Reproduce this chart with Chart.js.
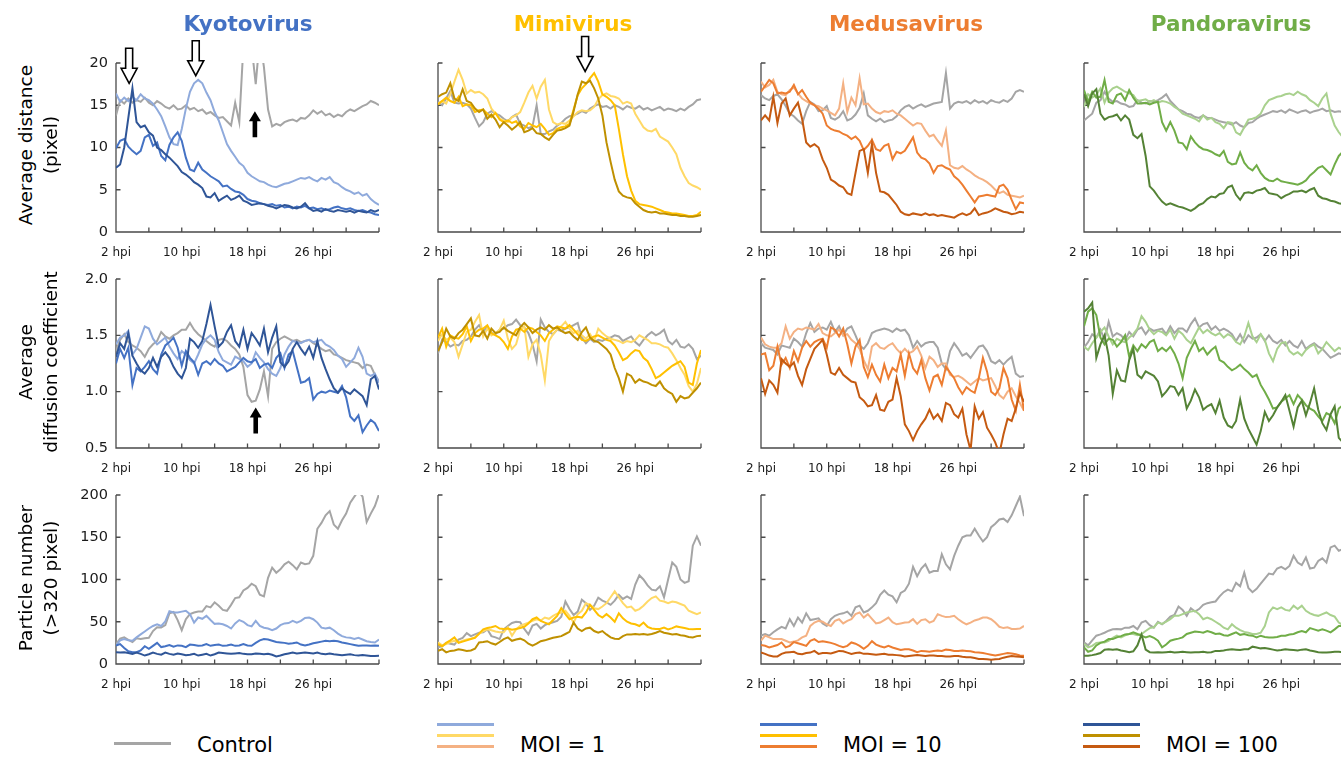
<!DOCTYPE html>
<html>
<head>
<meta charset="utf-8">
<script src="https://cdn.jsdelivr.net/npm/chart.js@4.4.1/dist/chart.umd.min.js"></script>
<style>
  html, body { margin: 0; padding: 0; width: 1341px; height: 762px; overflow: hidden; background: #ffffff; }
  body { position: relative; font-family: "DejaVu Sans", Verdana, sans-serif; color: #000; }
  canvas { position: absolute; }
  .col-title { position: absolute; top: 11px; font-size: 21.5px; font-weight: bold; white-space: nowrap; transform: translateX(-50%); }
  .axis-title { position: absolute; font-size: 18.5px; white-space: nowrap; transform: translate(-50%, -50%) rotate(-90deg); }
  .legend-line { position: absolute; height: 3px; }
  .legend-text { position: absolute; font-size: 21px; line-height: 24px; white-space: nowrap; }
</style>
</head>
<body>
<script>
// ---- sampling grid (hours post infection) and axis ticks ----
const HOURS = Array.from({ length: 65 }, (_, i) => 2 + i * 0.5);
const TICK_HOURS = [2, 6, 10, 14, 18, 22, 26, 30, 34];
const TICK_LABELS = { 2: '2 hpi', 10: '10 hpi', 18: '18 hpi', 26: '26 hpi' };

const VIRUSES = ['Kyotovirus', 'Mimivirus', 'Medusavirus', 'Pandoravirus'];
const VIRUS_COLORS = ['#4472C4', '#FFC000', '#ED7D31', '#70AD47'];
const CONTROL_COLOR = '#A5A5A5';
const MOI_COLORS = [
  ['#8FAADC', '#4472C4', '#2F5597'],
  ['#FFD966', '#FFC000', '#BF9000'],
  ['#F4B183', '#ED7D31', '#C55A11'],
  ['#A9D18E', '#70AD47', '#548235']
];
const MOI_LABELS = ['MOI = 1', 'MOI = 10', 'MOI = 100'];
const METRIC_TITLES = [
  ['Average distance', '(pixel)'],
  ['Average', 'diffusion coefficient'],
  ['Particle number', '(>320 pixel)']
];
const Y_MIN = [0, 0.5, 0];
const Y_MAX = [20, 2.0, 200];
const Y_STEP = [5, 0.5, 50];

// ---- Average distance (pixel) ----
const KYOTO_DIST_CTRL = [13.8,15.6,15.2,15.8,15.3,15.6,15.4,15.9, 15.3,15.0,15.5,15.2,14.8,14.6,15.0,14.5, 14.6,15.0,14.5,14.7,14.3,14.5,14.0,14.2, 13.8,13.5,13.6,13.1,12.6,15.3,13.0,22, 23,22,17.5,23,19.5,14.5,12.5,12.8, 12.6,13.0,13.2,13.3,13.1,13.5,13.4,13.8, 14.4,14.0,14.3,13.8,14.0,13.6,13.9,13.7, 14.2,14.5,14.3,14.6,14.9,15.1,15.5,15.3, 15.0];
const KYOTO_DIST_MOI1 = [16.4,15.4,15.9,15.5,16.0,15.6,16.3,15.8, 15.6,15.2,14.5,13.7,12.5,11.2,10.4,10.3, 12.2,14.6,16.6,17.6,18.0,17.6,16.5,15.6, 14.2,13.2,11.8,10.4,9.6,8.9,8.2,7.8, 7.0,6.6,6.3,6.0,5.9,5.6,5.4,5.3, 5.5,5.7,5.8,6.0,6.2,6.4,6.3,6.5, 6.2,6.0,6.4,6.2,6.5,5.9,5.7,5.3, 5.0,4.8,4.5,4.7,4.3,4.5,3.9,3.5, 3.2];
const KYOTO_DIST_MOI10 = [9.9,10.8,11.0,10.1,9.6,9.2,9.6,11.2, 11.5,10.2,10.6,9.0,8.5,10.3,11.2,11.8, 10.8,8.8,7.4,7.2,8.2,7.4,7.0,6.6, 6.3,6.0,5.4,5.5,5.1,4.8,4.7,4.4, 3.9,3.7,3.6,3.4,3.3,3.2,3.3,3.1, 3.2,2.9,3.0,2.8,3.0,2.9,3.1,2.8, 2.9,2.7,2.8,2.6,2.7,2.9,3.0,2.8, 2.7,2.8,2.6,2.5,2.6,2.4,2.3,2.1, 2.0];
const KYOTO_DIST_MOI100 = [7.6,8.0,10.0,13.5,17.0,13.0,12.4,12.6, 11.8,11.4,10.0,9.7,9.2,8.8,8.3,7.8, 7.1,6.8,6.4,5.9,5.6,5.2,4.2,4.1, 4.6,3.7,4.0,4.3,3.8,4.0,4.3,3.7, 3.5,3.2,3.3,3.4,3.3,3.1,3.0,2.8, 3.0,3.2,3.1,2.9,2.8,3.0,3.4,2.8, 2.5,2.6,2.4,2.7,2.5,2.4,2.6,2.5, 2.4,2.5,2.3,2.5,2.4,2.3,2.6,2.4, 2.6];

const MIMI_DIST_CTRL = [15.4,15.0,15.8,16.7,15.3,15.2,15.3,15.1, 14.6,13.5,12.5,13.0,14.0,14.3,14.0,13.8, 13.4,13.1,13.6,13.9,12.8,12.6,12.3,12.5, 15.0,11.6,11.6,11.9,12.1,12.6,12.9,13.4, 13.7,13.8,14.0,14.3,14.1,14.6,14.9,15.1, 14.8,14.9,14.6,15.0,14.8,14.5,14.9,14.7, 14.6,14.9,14.5,14.7,14.4,14.6,14.8,14.4, 14.6,14.5,14.3,14.6,14.4,14.8,15.1,15.6, 15.7];
const MIMI_DIST_MOI1 = [15.2,15.5,15.2,16.3,17.8,19.2,18.0,16.4, 16.8,16.5,16.6,16.3,15.8,14.6,14.0,13.4, 13.2,13.0,13.6,13.8,14.2,15.3,16.5,17.3, 15.8,17.2,18.0,14.5,13.0,12.7,12.9,12.8, 13.2,13.7,14.2,14.4,14.3,14.4,14.8,15.7, 16.2,16.4,16.1,16.0,15.8,15.2,15.4,15.2, 14.0,13.2,12.4,12.0,11.9,12.2,11.3,11.0, 10.7,10.0,9.2,7.6,6.6,5.8,5.5,5.3, 5.0];
const MIMI_DIST_MOI10 = [15.1,15.5,15.9,15.5,15.3,16.0,14.9,15.1, 15.0,14.2,14.4,14.5,14.0,13.6,14.1,13.3, 13.0,13.2,12.9,13.1,12.5,12.2,12.9,12.6, 12.4,12.8,12.2,11.5,11.7,12.2,12.4,12.5, 12.8,14.5,16.2,17.0,17.5,18.2,18.8,17.8, 16.3,16.0,15.6,15.0,12.2,9.2,6.6,4.9, 3.7,3.3,3.2,3.1,3.0,2.8,2.6,2.4, 2.3,2.2,2.2,2.1,2.0,1.9,1.9,2.0, 2.4];
const MIMI_DIST_MOI100 = [16.0,16.3,16.5,17.6,15.8,15.5,16.9,15.5, 15.3,14.6,14.2,14.5,13.4,13.9,13.3,12.4, 13.0,12.6,12.1,12.5,13.0,11.8,12.0,12.3, 11.7,11.6,11.2,10.9,11.5,12.0,12.1,12.3, 12.6,14.3,16.3,17.8,17.6,17.9,17.0,15.8, 13.8,10.6,8.3,6.2,4.8,4.3,4.1,4.0, 3.4,3.0,2.6,2.4,2.3,2.4,2.2,2.2, 2.1,2.0,2.0,1.9,1.9,1.8,1.8,1.9, 2.0];

const MEDUSA_DIST_CTRL = [16.2,15.8,15.6,16.1,16.3,15.7,14.9,14.0, 13.7,13.2,12.8,14.3,15.4,15.1,14.3,14.4, 14.9,13.5,13.3,13.6,14.3,13.2,13.4,13.9, 14.7,16.4,13.8,13.4,13.1,13.4,13.0,13.2, 13.3,13.7,14.4,14.8,15.0,14.6,14.9,15.1, 14.8,15.0,15.2,15.3,15.4,18.8,14.6,15.2, 15.4,15.3,15.5,15.2,15.6,15.3,15.5,15.2, 15.6,15.4,15.3,15.6,15.4,15.8,16.6,16.8, 16.6];
const MEDUSA_DIST_MOI1 = [17.8,17.1,17.4,18.0,16.6,16.3,16.2,16.8, 17.1,16.4,15.8,15.5,15.2,15.0,14.9,14.6, 14.4,14.1,13.8,14.6,17.6,14.2,15.9,15.0, 18.2,15.1,15.2,14.6,14.2,14.0,14.3,14.2, 14.4,14.0,13.8,13.4,13.0,12.6,12.9,12.8, 12.0,11.3,11.5,10.8,10.2,12.0,7.9,7.6, 7.5,7.8,7.4,7.1,6.7,6.4,6.2,5.9, 5.5,5.0,4.6,4.8,4.4,4.3,4.2,4.1, 4.3];
const MEDUSA_DIST_MOI10 = [16.6,17.3,18.0,17.6,16.4,16.5,16.4,16.6, 17.4,16.3,16.8,16.0,15.3,15.0,14.6,14.0, 12.6,12.2,12.0,11.9,11.6,11.4,11.0,11.3, 10.8,9.7,10.2,10.9,9.8,9.6,10.2,10.4, 8.6,9.5,9.3,9.6,10.4,11.2,9.4,8.8, 8.6,8.1,7.0,7.8,7.9,7.6,7.4,6.6, 6.2,5.6,4.9,4.2,3.5,4.2,4.3,4.4, 4.3,4.2,5.4,5.6,5.0,3.8,2.7,3.5, 3.4];
const MEDUSA_DIST_MOI100 = [13.2,13.8,13.2,16.0,12.9,15.2,15.8,13.8, 14.6,15.3,13.4,10.6,10.1,10.4,10.0,8.6, 7.6,6.2,5.9,5.5,5.3,4.6,4.4,7.0, 9.6,9.8,7.0,10.4,7.0,4.8,4.7,4.4, 3.8,3.2,2.4,2.1,2.0,2.2,2.1,2.0, 2.2,2.0,2.1,1.9,2.0,1.9,1.8,1.7, 2.0,2.2,2.0,2.2,2.8,2.0,2.2,2.3, 2.5,2.8,2.6,2.4,2.3,2.1,2.2,2.4, 2.3];

const PANDORA_DIST_CTRL = [13.2,13.6,14.0,15.3,15.6,16.6,15.8,15.4, 15.5,15.2,15.1,14.8,14.9,15.6,15.3,15.2, 15.5,15.4,15.6,15.9,16.3,15.5,15.0,14.5, 14.3,14.0,13.9,13.6,13.5,13.8,13.5,13.5, 13.3,13.1,13.0,12.9,12.7,13.0,12.6,12.4, 12.9,13.0,13.4,13.7,13.9,14.1,14.3,14.2, 14.4,14.1,14.5,14.3,14.1,14.3,14.4,14.1, 14.3,14.4,14.6,14.3,14.4,14.2,14.3,14.2, 14.0];
const PANDORA_DIST_MOI1 = [14.8,16.3,15.9,16.2,17.0,15.3,16.5,17.0, 17.2,16.9,16.6,16.4,16.2,15.5,15.6,15.7, 15.4,15.6,15.3,15.5,15.4,15.2,14.8,14.5, 14.0,13.8,13.6,13.4,13.1,13.8,13.3,13.5, 13.0,12.8,12.3,13.0,12.9,11.8,11.5,12.4, 13.3,13.4,13.6,14.0,15.0,15.6,15.8,16.0, 16.1,16.3,16.4,16.2,16.6,16.3,16.1,15.6, 15.3,14.9,15.8,16.4,14.0,12.6,11.8,11.2, 10.8];
const PANDORA_DIST_MOI10 = [16.8,15.4,16.6,15.9,16.0,18.0,15.4,15.2, 16.2,16.4,15.6,16.8,15.9,15.2,15.2,15.3, 15.1,15.3,15.4,13.0,12.0,13.0,12.0,10.6, 10.5,9.8,11.3,10.6,10.1,9.8,9.7,9.5, 9.2,9.0,9.6,8.3,8.0,8.1,9.4,8.2, 7.6,7.3,7.9,7.0,6.4,6.1,6.0,6.3, 6.0,5.9,5.8,5.7,5.6,5.8,6.1,6.7, 7.1,7.6,7.8,7.3,6.8,8.0,9.0,9.5, 10.0];
const PANDORA_DIST_MOI100 = [16.3,14.9,16.4,16.9,14.0,13.3,13.6,13.7, 13.9,13.2,13.8,13.3,11.5,11.1,11.6,9.0, 5.4,4.9,4.2,3.6,3.2,3.4,3.2,3.0, 2.9,2.7,2.5,2.8,3.2,3.4,3.9,4.2, 4.1,4.5,4.6,5.3,5.5,4.4,3.8,4.6, 4.7,4.6,4.9,5.0,5.2,4.6,4.5,4.4, 4.0,4.3,4.5,4.8,4.8,4.9,4.7,5.0, 5.2,4.3,4.0,3.9,3.7,3.6,3.4,3.3, 3.2];

// ---- Average diffusion coefficient ----
const KYOTO_DIFF_CTRL = [1.36,1.46,1.51,1.44,1.41,1.39,1.36,1.31, 1.38,1.42,1.45,1.53,1.49,1.47,1.50,1.52, 1.55,1.55,1.61,1.55,1.51,1.48,1.45,1.42, 1.40,1.46,1.47,1.45,1.41,1.38,1.33,1.22, 0.97,0.91,0.92,1.02,1.18,0.96,1.38,1.44, 1.47,1.49,1.47,1.45,1.46,1.44,1.45,1.46, 1.43,1.41,1.38,1.36,1.37,1.33,1.32,1.30, 1.28,1.27,1.26,1.25,1.21,1.24,1.23,1.15, 1.09];
const KYOTO_DIFF_MOI1 = [1.42,1.48,1.50,1.54,1.33,1.38,1.48,1.58, 1.56,1.47,1.42,1.45,1.48,1.40,1.34,1.29, 1.36,1.33,1.28,1.25,1.33,1.42,1.47,1.50, 1.46,1.35,1.28,1.26,1.24,1.31,1.29,1.27, 1.22,1.25,1.35,1.30,1.26,1.20,1.16,1.14, 1.21,1.33,1.40,1.45,1.44,1.43,1.45,1.46, 1.44,1.45,1.46,1.42,1.40,1.37,1.32,1.29, 1.22,1.26,1.30,1.39,1.31,1.16,1.14,1.16, 1.08];
const KYOTO_DIFF_MOI10 = [1.25,1.38,1.30,1.39,1.06,1.21,1.18,1.22, 1.27,1.20,1.16,1.33,1.41,1.44,1.48,1.39, 1.23,1.36,1.30,1.26,1.15,1.25,1.27,1.24, 1.29,1.25,1.23,1.18,1.20,1.22,1.26,1.30, 1.27,1.26,1.29,1.21,1.24,1.25,1.21,1.30, 1.34,1.21,1.33,1.36,1.22,1.08,1.09,1.12, 0.93,0.98,1.00,0.99,1.01,1.00,0.99,1.05, 0.95,0.78,0.74,0.79,0.64,0.70,0.75,0.72, 0.65];
const KYOTO_DIFF_MOI100 = [1.31,1.43,1.38,1.52,1.32,1.25,1.19,1.16, 1.21,1.30,1.22,1.31,1.35,1.30,1.22,1.16, 1.12,1.21,1.47,1.44,1.39,1.45,1.60,1.77, 1.58,1.40,1.44,1.53,1.59,1.45,1.40,1.55, 1.38,1.52,1.47,1.41,1.56,1.35,1.48,1.58, 1.26,1.22,1.27,1.38,1.44,1.38,1.33,1.40, 1.30,1.45,1.30,1.20,1.11,1.03,0.99,1.03, 1.00,0.98,1.02,0.99,0.96,0.88,1.11,1.14, 1.02];

const MIMI_DIFF_CTRL = [1.34,1.46,1.44,1.40,1.42,1.41,1.45,1.46, 1.49,1.55,1.59,1.53,1.58,1.52,1.51,1.55, 1.56,1.59,1.60,1.64,1.59,1.57,1.52,1.42, 1.27,1.64,1.57,1.53,1.51,1.55,1.54,1.56, 1.57,1.59,1.61,1.48,1.43,1.47,1.44,1.46, 1.45,1.47,1.48,1.50,1.49,1.45,1.47,1.49, 1.44,1.41,1.46,1.50,1.53,1.50,1.52,1.55, 1.45,1.42,1.46,1.40,1.39,1.42,1.38,1.29, 1.32];
const MIMI_DIFF_MOI1 = [1.45,1.51,1.46,1.48,1.44,1.31,1.42,1.53, 1.55,1.62,1.68,1.49,1.56,1.50,1.52,1.55, 1.63,1.47,1.38,1.42,1.55,1.58,1.31,1.42, 1.46,1.33,1.10,1.45,1.51,1.55,1.58,1.62, 1.56,1.52,1.54,1.50,1.47,1.51,1.45,1.56, 1.52,1.49,1.47,1.46,1.45,1.43,1.45,1.44, 1.46,1.50,1.48,1.46,1.43,1.43,1.42,1.40, 1.39,1.34,1.28,1.21,1.15,1.05,1.00,1.07, 1.21];
const MIMI_DIFF_MOI10 = [1.48,1.56,1.40,1.50,1.48,1.47,1.51,1.58, 1.45,1.52,1.55,1.56,1.59,1.52,1.50,1.48, 1.44,1.38,1.49,1.55,1.56,1.53,1.57,1.56, 1.53,1.50,1.45,1.52,1.55,1.58,1.57,1.56, 1.59,1.55,1.51,1.46,1.45,1.47,1.49,1.50, 1.48,1.46,1.45,1.41,1.35,1.28,1.30,1.34, 1.37,1.36,1.30,1.27,1.20,1.12,1.14,1.17, 1.20,1.23,1.25,1.27,1.22,1.08,1.06,1.25, 1.37];
const MIMI_DIFF_MOI100 = [1.36,1.44,1.56,1.49,1.47,1.52,1.55,1.60, 1.65,1.50,1.49,1.54,1.47,1.56,1.52,1.53, 1.57,1.54,1.52,1.50,1.57,1.61,1.57,1.52, 1.55,1.57,1.55,1.59,1.56,1.57,1.54,1.52, 1.53,1.49,1.46,1.53,1.57,1.48,1.45,1.44, 1.41,1.38,1.33,1.21,1.12,1.00,1.16,1.14, 1.08,1.11,1.09,1.08,1.06,1.05,1.09,1.03, 1.00,0.98,0.91,0.96,0.94,0.95,0.99,1.03, 1.08];

const MEDUSA_DIFF_CTRL = [1.43,1.39,1.38,1.37,1.33,1.41,1.40,1.39, 1.47,1.44,1.40,1.52,1.61,1.53,1.56,1.57, 1.55,1.62,1.53,1.58,1.50,1.56,1.58,1.50, 1.41,1.38,1.43,1.52,1.54,1.55,1.56,1.55, 1.53,1.56,1.54,1.55,1.50,1.39,1.45,1.40, 1.43,1.44,1.44,1.39,1.25,1.20,1.36,1.43, 1.38,1.32,1.34,1.30,1.35,1.40,1.41,1.36, 1.27,1.25,1.28,1.24,1.28,1.31,1.16,1.13, 1.14];
const MEDUSA_DIFF_MOI1 = [1.48,1.42,1.40,1.39,1.39,1.43,1.58,1.47, 1.53,1.56,1.55,1.57,1.56,1.55,1.60,1.52, 1.50,1.49,1.52,1.55,1.50,1.51,1.46,1.43, 1.38,1.28,1.20,1.40,1.43,1.39,1.38,1.41, 1.43,1.38,1.34,1.38,1.34,1.36,1.40,1.32, 1.21,1.31,1.28,1.22,1.25,1.25,1.15,1.13, 1.14,1.12,1.09,1.06,1.09,1.12,1.10,1.11, 1.12,1.05,0.97,0.94,1.00,1.03,0.96,0.90, 0.83];
const MEDUSA_DIFF_MOI10 = [1.33,1.34,1.19,1.23,1.40,1.24,1.30,1.21, 1.36,1.27,1.39,1.45,1.40,1.44,1.46,1.47, 1.39,1.57,1.55,1.49,1.56,1.42,1.25,1.40, 1.46,1.22,1.13,1.24,1.15,1.09,1.24,1.12, 1.21,1.18,1.33,1.14,1.34,1.21,1.16,1.28, 1.12,1.01,1.13,1.15,1.06,1.22,1.17,1.12, 1.04,0.98,1.04,1.01,0.99,1.12,1.30,1.18, 1.00,0.97,1.03,1.21,1.12,0.93,0.83,1.06, 0.83];
const MEDUSA_DIFF_MOI100 = [1.12,0.98,1.10,1.06,0.99,1.29,1.25,1.22, 1.26,1.14,1.06,1.20,1.29,1.38,1.42,1.46, 1.33,1.17,1.15,1.21,1.15,1.12,1.09,1.08, 0.95,0.92,0.87,0.88,0.97,0.84,0.83,0.91, 0.93,1.12,0.96,0.71,0.65,0.57,0.65,0.71, 0.76,0.84,0.76,0.80,0.74,0.90,0.88,0.80, 0.77,0.85,0.62,0.48,0.87,0.76,0.82,0.68, 0.62,0.55,0.45,0.62,0.76,0.74,0.85,0.99, 0.91];

const PANDORA_DIFF_CTRL = [1.39,1.44,1.51,1.48,1.55,1.46,1.62,1.49, 1.52,1.50,1.46,1.53,1.49,1.55,1.57,1.51, 1.56,1.54,1.55,1.56,1.51,1.58,1.52,1.56, 1.56,1.53,1.60,1.65,1.57,1.60,1.61,1.55, 1.58,1.54,1.56,1.54,1.51,1.45,1.51,1.44, 1.50,1.47,1.48,1.51,1.45,1.50,1.45,1.43, 1.46,1.41,1.45,1.41,1.39,1.45,1.38,1.41, 1.43,1.40,1.38,1.34,1.30,1.32,1.34,1.33, 1.35];
const PANDORA_DIFF_MOI1 = [1.40,1.37,1.43,1.48,1.53,1.57,1.49,1.42, 1.47,1.45,1.44,1.48,1.51,1.56,1.67,1.62, 1.55,1.51,1.54,1.53,1.50,1.55,1.47,1.54, 1.51,1.46,1.43,1.50,1.57,1.52,1.55,1.52, 1.50,1.52,1.48,1.51,1.49,1.44,1.42,1.49, 1.61,1.49,1.44,1.51,1.46,1.34,1.27,1.38, 1.43,1.44,1.36,1.33,1.35,1.32,1.37,1.40, 1.42,1.34,1.38,1.44,1.40,1.36,1.39,1.37, 1.36];
const PANDORA_DIFF_MOI10 = [1.58,1.71,1.74,1.68,1.48,1.42,1.47,1.46, 1.40,1.44,1.50,1.31,1.41,1.36,1.42,1.39, 1.44,1.46,1.36,1.39,1.36,1.40,1.34,1.25, 1.12,1.30,1.38,1.45,1.36,1.39,1.33,1.37, 1.40,1.28,1.26,1.22,1.19,1.21,1.24,1.20, 1.17,1.13,1.15,1.06,1.00,0.93,0.85,0.86, 0.91,0.94,0.97,0.89,0.97,0.93,0.88,0.85, 0.83,0.78,0.74,0.81,0.79,0.72,0.85,0.88, 0.86];
const PANDORA_DIFF_MOI100 = [1.71,1.74,1.79,1.30,1.42,1.50,1.32,0.98, 1.19,1.10,1.09,1.28,1.38,1.15,1.12,1.18, 1.16,1.14,1.09,0.96,1.00,1.05,1.04,0.97, 1.03,0.85,0.92,1.02,0.95,0.84,0.87,0.89, 0.81,0.92,0.77,0.70,0.68,0.74,0.93,0.76, 0.67,0.60,0.53,0.65,0.82,0.74,0.79,0.86, 0.91,0.97,0.83,0.69,0.86,0.92,0.79,0.90, 1.03,0.84,0.72,0.66,0.80,0.87,0.59,0.55, 0.60];

// ---- Particle number (>320 pixel) ----
const KYOTO_COUNT_CTRL = [23.6,30.0,31.5,28.5,26.0,30.5,29.5,30.5, 31.0,39.0,43.5,43.3,46.0,60.0,61.5,52.0, 40.0,53.0,59.0,61.0,62.0,62.0,68.5,67.0, 73.0,69.0,64.0,63.0,70.0,78.0,79.0,87.0, 90.0,95.0,92.0,82.0,80.0,102.0,114.0,108.0, 112.0,118.0,121.0,117.0,112.0,120.0,118.0,119.0, 128.0,160.0,167.0,176.0,181.0,165.0,160.0,170.0, 178.0,191.0,198.0,205.0,198.0,168.0,178.0,187.0, 201.0];
const KYOTO_COUNT_MOI1 = [21.7,28.0,29.5,28.0,27.5,31.5,35.0,38.5, 42.0,45.0,47.0,45.0,50.5,62.5,61.0,61.0, 62.0,63.0,59.0,49.0,55.0,53.5,57.0,52.0, 47.5,48.0,47.0,45.0,42.0,48.0,52.0,50.0, 46.0,44.5,51.0,45.0,43.0,42.0,40.0,42.0, 46.0,48.0,48.5,51.0,49.0,51.0,54.5,55.0, 53.0,49.0,43.0,42.0,43.0,40.0,36.0,33.0, 31.5,31.0,29.5,31.0,29.0,27.0,26.0,25.5, 29.0];
const KYOTO_COUNT_MOI10 = [21.7,23.6,19.0,15.0,13.8,14.0,16.0,21.0, 18.0,21.5,25.0,20.0,21.0,22.5,20.5,22.0, 21.5,20.0,23.0,22.5,21.5,22.0,23.5,21.5, 22.5,23.0,21.5,22.0,23.0,21.5,22.0,23.5, 22.0,21.5,25.0,28.0,29.5,29.0,27.5,26.0, 25.5,25.0,24.0,24.5,25.5,23.0,22.0,23.0, 24.5,25.5,26.5,27.5,27.0,27.5,27.0,25.5, 24.5,23.5,22.5,21.5,22.0,22.0,21.5,22.0, 21.5];
const KYOTO_COUNT_MOI100 = [13.8,13.5,13.8,13.0,12.0,13.5,12.0,10.0, 11.5,13.5,12.0,11.0,13.5,12.0,11.0,12.5, 11.5,10.5,11.0,12.0,10.0,11.0,12.0,10.0, 11.5,13.5,13.0,12.5,12.0,12.5,13.0,12.0, 11.5,11.5,12.5,12.0,11.5,12.0,11.0,9.0, 10.0,11.5,12.5,13.5,12.5,13.0,13.5,13.0, 12.5,13.5,12.0,11.5,12.5,11.5,11.0,10.5, 11.0,11.5,10.5,10.0,10.5,10.0,9.5,9.5, 9.8];

const MIMI_COUNT_CTRL = [19.7,21.0,25.0,24.0,23.0,29.0,31.0,36.5, 33.0,35.0,37.0,37.5,41.0,33.0,31.5,29.5, 41.0,45.0,48.5,50.0,49.5,41.5,35.0,45.5, 47.5,42.0,46.0,48.0,49.5,51.0,56.0,74.0, 65.0,58.0,62.0,76.0,72.0,64.0,69.0,78.5, 75.0,73.0,70.0,75.0,82.0,77.0,80.0,77.0, 94.0,105.0,100.0,93.0,88.0,87.0,92.0,79.0, 100.0,120.0,115.0,100.0,96.0,98.0,140.0,151.0, 140.0];
const MIMI_COUNT_MOI1 = [25.6,22.0,23.5,26.0,27.5,25.5,27.5,29.0, 30.0,31.5,35.5,39.0,41.0,40.0,38.5,37.5, 37.5,43.5,33.5,41.0,45.0,47.0,49.0,51.0, 53.0,51.5,55.0,53.5,57.0,59.5,61.0,63.0, 57.0,49.0,59.0,63.0,72.0,70.0,66.0,65.0, 68.0,72.0,79.0,86.0,79.0,72.0,67.0,68.0, 63.0,65.0,69.0,74.0,78.0,80.0,75.0,74.0, 72.0,74.0,73.0,71.0,69.0,63.0,61.0,59.0, 61.0];
const MIMI_COUNT_MOI10 = [23.6,21.0,25.0,28.0,31.5,25.0,26.5,28.0, 29.5,31.0,36.0,41.0,42.5,43.5,45.0,42.0, 41.5,42.0,40.5,41.5,42.5,44.0,48.0,53.0, 55.0,51.0,49.0,47.0,52.0,57.0,66.0,59.0, 53.0,55.0,56.0,55.0,61.0,70.0,64.0,58.0, 55.0,59.0,55.0,50.0,60.0,54.0,50.0,48.0, 47.0,45.0,49.0,44.0,42.0,41.5,41.5,43.0, 41.0,42.5,44.5,43.5,42.5,41.5,41.0,41.5, 41.5];
const MIMI_COUNT_MOI100 = [15.7,17.5,13.8,15.5,16.0,17.5,16.5,15.5, 16.0,18.0,25.5,26.0,27.0,24.5,23.0,26.0, 29.5,31.5,27.5,29.0,30.0,28.0,24.0,21.7, 24.0,27.0,28.0,29.5,31.0,32.0,33.0,35.5, 38.0,49.0,42.0,39.0,42.0,43.0,39.0,37.0, 39.0,35.0,31.5,30.0,29.5,33.0,35.0,35.0, 35.5,35.0,35.5,34.5,35.5,37.0,39.0,37.0, 36.0,35.0,35.5,34.0,33.5,32.0,31.5,33.0, 33.5];

const MEDUSA_COUNT_CTRL = [33.5,35.5,33.5,37.5,41.0,44.0,42.0,53.0, 45.0,55.0,49.0,60.0,52.0,53.0,54.0,48.0, 45.0,53.0,57.0,59.0,60.0,62.0,57.0,67.0, 69.0,61.0,63.0,67.0,72.0,82.0,87.0,82.0, 80.0,73.0,84.0,87.0,95.0,115.0,104.0,113.0, 118.0,108.0,110.0,110.0,130.0,118.0,112.0,128.0, 140.0,150.0,152.0,152.0,160.0,152.0,145.0,150.0, 162.0,166.0,171.0,172.0,168.0,176.0,187.0,198.0, 175.0];
const MEDUSA_COUNT_MOI1 = [27.6,33.5,31.5,29.5,29.5,29.5,27.5,25.6, 26.5,28.0,31.5,33.5,45.0,49.0,51.0,50.0, 47.0,45.0,51.0,53.0,48.0,51.0,53.0,59.0, 61.0,55.0,59.0,53.5,48.0,49.0,52.0,55.0, 49.5,47.0,48.0,49.0,49.5,53.0,47.5,52.0, 53.0,49.0,51.0,59.0,57.0,55.5,56.0,57.0, 53.0,49.5,47.0,49.0,51.5,53.0,55.0,55.0, 53.0,49.0,44.0,42.5,43.5,41.5,41.5,42.0, 45.0];
const MEDUSA_COUNT_MOI10 = [22.4,21.5,19.7,21.0,22.5,25.5,19.7,21.5, 26.0,24.5,23.0,21.5,27.5,29.5,26.0,27.0, 26.0,25.0,23.5,21.5,20.0,21.5,25.5,24.0, 21.5,18.0,21.5,27.0,23.0,21.0,19.5,21.5, 19.5,18.0,16.5,17.5,17.5,16.0,14.0,15.5, 15.0,14.5,15.5,16.0,15.5,17.0,16.5,15.5, 15.5,16.0,15.5,15.0,14.0,13.5,13.0,12.0, 11.0,10.0,11.0,12.0,13.0,12.5,11.5,10.0, 9.8];
const MEDUSA_COUNT_MOI100 = [13.8,12.0,10.0,9.0,9.0,12.0,13.5,14.0, 14.5,12.0,11.5,13.0,13.5,15.5,12.0,13.0, 13.0,12.5,14.0,15.5,15.0,13.5,12.0,13.0, 13.5,12.0,12.0,11.5,11.0,11.5,12.0,11.0, 11.0,10.5,10.0,9.0,9.5,10.0,10.5,10.0, 9.5,10.0,10.0,9.5,9.5,9.0,9.0,9.5, 9.5,8.5,8.0,8.0,7.0,6.0,6.0,5.5, 5.0,5.5,6.0,7.5,8.5,9.5,9.0,8.5, 8.0];

const PANDORA_COUNT_CTRL = [25.6,22.0,28.0,33.5,35.0,37.0,39.4,41.0, 41.5,41.0,43.0,43.0,45.0,41.0,49.0,51.0, 46.0,43.0,50.0,47.0,51.0,56.0,58.0,68.0, 64.0,57.0,66.0,62.0,65.0,70.0,72.0,73.0, 74.0,80.0,85.0,88.0,86.0,96.0,92.0,108.0, 90.0,85.0,89.0,95.0,101.0,107.0,106.0,113.0, 115.0,112.0,116.0,128.0,120.0,117.0,126.0,113.0, 114.0,122.0,125.0,120.0,138.0,140.0,134.0,136.0, 138.0];
const PANDORA_COUNT_MOI1 = [23.6,19.7,21.5,25.0,25.5,25.5,27.5,31.0, 33.5,31.5,34.0,35.5,35.5,34.0,35.5,39.0, 42.5,43.5,49.0,47.5,50.0,53.0,57.0,57.0, 59.0,61.0,62.0,63.0,59.0,53.0,55.0,53.0, 50.0,47.0,43.0,41.0,47.0,43.0,40.0,38.0, 37.0,35.5,35.5,37.0,45.0,61.0,67.0,65.0, 67.0,64.0,63.0,69.0,65.0,69.0,63.0,60.0, 58.0,57.0,59.0,61.0,58.0,56.0,49.0,46.0, 45.0];
const PANDORA_COUNT_MOI10 = [19.7,14.5,16.0,22.0,25.0,26.5,29.5,29.5, 31.5,33.0,35.0,35.5,37.5,35.5,33.5,31.5, 33.0,31.0,27.5,19.7,23.0,27.5,29.0,30.0, 31.5,35.5,37.0,38.5,38.0,37.0,39.0,37.5, 35.5,36.0,34.0,33.5,35.5,37.5,34.5,35.5, 34.0,33.5,31.5,33.5,32.0,31.5,31.5,32.0, 33.5,33.5,35.0,35.5,37.5,39.0,37.5,42.5, 41.0,39.5,41.0,39.5,37.5,41.0,45.0,45.0, 45.0];
const PANDORA_COUNT_MOI100 = [9.8,9.8,10.5,11.5,13.0,17.0,17.5,17.0, 17.5,16.0,15.0,14.0,15.0,22.0,35.0,17.0, 14.0,13.5,14.0,13.5,14.0,14.5,13.5,14.0, 14.5,14.0,13.5,14.0,14.0,14.5,13.5,14.0, 15.5,15.5,16.0,17.0,17.5,17.0,16.5,17.5, 17.5,20.5,19.5,18.5,19.0,18.0,17.0,16.0, 16.5,17.5,17.0,16.5,16.0,17.0,17.5,16.0, 15.0,14.0,13.5,13.5,14.0,14.5,14.5,14.0, 14.0];

// ---- markers pointing at notable events (hour, value of the tip) ----
const OPEN_ARROWS = [
  { row: 0, col: 0, hour: 3.6, value: 17.6 },
  { row: 0, col: 0, hour: 11.7, value: 18.5 },
  { row: 0, col: 1, hour: 19.9, value: 19.0 }
];
const SOLID_ARROWS = [
  { row: 0, col: 0, hour: 18.9, value: 14.3 },
  { row: 1, col: 0, hour: 19.0, value: 0.86 }
];

// series grouped by [row][column] as [control, MOI 1, MOI 10, MOI 100]
const SERIES = [
  [
    [KYOTO_DIST_CTRL, KYOTO_DIST_MOI1, KYOTO_DIST_MOI10, KYOTO_DIST_MOI100],
    [MIMI_DIST_CTRL, MIMI_DIST_MOI1, MIMI_DIST_MOI10, MIMI_DIST_MOI100],
    [MEDUSA_DIST_CTRL, MEDUSA_DIST_MOI1, MEDUSA_DIST_MOI10, MEDUSA_DIST_MOI100],
    [PANDORA_DIST_CTRL, PANDORA_DIST_MOI1, PANDORA_DIST_MOI10, PANDORA_DIST_MOI100]
  ],
  [
    [KYOTO_DIFF_CTRL, KYOTO_DIFF_MOI1, KYOTO_DIFF_MOI10, KYOTO_DIFF_MOI100],
    [MIMI_DIFF_CTRL, MIMI_DIFF_MOI1, MIMI_DIFF_MOI10, MIMI_DIFF_MOI100],
    [MEDUSA_DIFF_CTRL, MEDUSA_DIFF_MOI1, MEDUSA_DIFF_MOI10, MEDUSA_DIFF_MOI100],
    [PANDORA_DIFF_CTRL, PANDORA_DIFF_MOI1, PANDORA_DIFF_MOI10, PANDORA_DIFF_MOI100]
  ],
  [
    [KYOTO_COUNT_CTRL, KYOTO_COUNT_MOI1, KYOTO_COUNT_MOI10, KYOTO_COUNT_MOI100],
    [MIMI_COUNT_CTRL, MIMI_COUNT_MOI1, MIMI_COUNT_MOI10, MIMI_COUNT_MOI100],
    [MEDUSA_COUNT_CTRL, MEDUSA_COUNT_MOI1, MEDUSA_COUNT_MOI10, MEDUSA_COUNT_MOI100],
    [PANDORA_COUNT_CTRL, PANDORA_COUNT_MOI1, PANDORA_COUNT_MOI10, PANDORA_COUNT_MOI100]
  ]
];

// ---- layout ----
const PLOT_LEFTS = [116, 438, 761, 1084];
const PLOT_TOPS = [63, 279, 495];
const PLOT_W = 265, PLOT_H = 169;
const Y_AXIS_W = 60, X_AXIS_H = 36, PAD_TOP = 40, PAD_RIGHT = 12;
const AXIS_COLOR = '#4a4a4a';
const TEXT_COLOR = '#1a1a1a';
const FONT = '"DejaVu Sans", Verdana, sans-serif';

Chart.defaults.font.family = FONT;

// axis lines with short inward tick marks
const axisFrame = {
  id: 'axisFrame',
  beforeDatasetsDraw(chart) {
    const { ctx, chartArea: a, scales: { x, y } } = chart;
    ctx.save();
    ctx.strokeStyle = AXIS_COLOR;
    ctx.lineWidth = 1.3;
    ctx.beginPath();
    ctx.moveTo(a.left, a.top);
    ctx.lineTo(a.left, a.bottom);
    ctx.lineTo(a.right, a.bottom);
    y.ticks.forEach(t => {
      const py = y.getPixelForValue(t.value);
      ctx.moveTo(a.left, py);
      ctx.lineTo(a.left + 4.5, py);
    });
    x.ticks.forEach(t => {
      const px = x.getPixelForValue(t.value);
      ctx.moveTo(px, a.bottom);
      ctx.lineTo(px, a.bottom - 4.5);
    });
    ctx.stroke();
    ctx.restore();
  }
};

// hollow arrows pointing down and filled arrows pointing up
const eventArrows = {
  id: 'eventArrows',
  afterDatasetsDraw(chart, args, opts) {
    const { ctx, scales: { x, y } } = chart;
    ctx.save();
    (opts.open || []).forEach(m => {
      const px = x.getPixelForValue(m.hour), py = y.getPixelForValue(m.value);
      ctx.beginPath();
      ctx.moveTo(px, py);
      ctx.lineTo(px - 8, py - 15);
      ctx.lineTo(px - 3.5, py - 15);
      ctx.lineTo(px - 3.5, py - 35);
      ctx.lineTo(px + 3.5, py - 35);
      ctx.lineTo(px + 3.5, py - 15);
      ctx.lineTo(px + 8, py - 15);
      ctx.closePath();
      ctx.fillStyle = '#ffffff';
      ctx.fill();
      ctx.lineWidth = 1.6;
      ctx.strokeStyle = '#000000';
      ctx.stroke();
    });
    (opts.solid || []).forEach(m => {
      const px = x.getPixelForValue(m.hour), py = y.getPixelForValue(m.value);
      ctx.beginPath();
      ctx.moveTo(px, py);
      ctx.lineTo(px + 6, py + 10);
      ctx.lineTo(px + 2.3, py + 10);
      ctx.lineTo(px + 2.3, py + 26);
      ctx.lineTo(px - 2.3, py + 26);
      ctx.lineTo(px - 2.3, py + 10);
      ctx.lineTo(px - 6, py + 10);
      ctx.closePath();
      ctx.fillStyle = '#000000';
      ctx.fill();
    });
    ctx.restore();
  }
};

function makePanel(row, col) {
  const canvas = document.createElement('canvas');
  let w = Y_AXIS_W + PLOT_W + PAD_RIGHT, h = PAD_TOP + PLOT_H + X_AXIS_H;
  canvas.width = w; canvas.height = h;
  canvas.style.width = w + 'px'; canvas.style.height = h + 'px';
  document.body.appendChild(canvas);

  const colors = [CONTROL_COLOR].concat(MOI_COLORS[col]);
  const datasets = SERIES[row][col].map((vals, k) => ({
    data: vals.map((v, i) => ({ x: HOURS[i], y: v })),
    borderColor: colors[k],
    borderWidth: 2,
    pointRadius: 0,
    tension: 0,
    fill: false,
    order: 4 - k
  }));

  const chart = new Chart(canvas, {
    type: 'line',
    data: { datasets },
    options: {
      responsive: false,
      animation: false,
      devicePixelRatio: 1,
      events: [],
      layout: { padding: { top: PAD_TOP, right: PAD_RIGHT, left: 0, bottom: 0 } },
      plugins: {
        legend: { display: false },
        tooltip: { enabled: false },
        eventArrows: {
          open: OPEN_ARROWS.filter(m => m.row === row && m.col === col),
          solid: SOLID_ARROWS.filter(m => m.row === row && m.col === col)
        }
      },
      scales: {
        x: {
          type: 'linear',
          min: 2, max: 34,
          grid: { display: false, drawTicks: false },
          border: { display: false },
          afterBuildTicks: s => { s.ticks = TICK_HOURS.map(v => ({ value: v })); },
          afterFit: s => { s.height = X_AXIS_H; },
          ticks: {
            autoSkip: false, maxRotation: 0, minRotation: 0, padding: 14,
            color: TEXT_COLOR, font: { size: 12 },
            callback: v => TICK_LABELS[v] || ''
          }
        },
        y: {
          min: Y_MIN[row], max: Y_MAX[row],
          grid: { display: false, drawTicks: false },
          border: { display: false },
          afterFit: s => { s.width = Y_AXIS_W; },
          ticks: {
            display: col === 0,
            stepSize: Y_STEP[row],
            padding: 8,
            color: TEXT_COLOR, font: { size: 14.5 },
            callback: v => row === 1 ? Number(v).toFixed(1) : String(v)
          }
        }
      }
    },
    plugins: [axisFrame, eventArrows]
  });

  // keep the plotting area at the intended size
  const ca = chart.chartArea;
  const dw = PLOT_W - (ca.right - ca.left), dh = PLOT_H - (ca.bottom - ca.top);
  if (Math.abs(dw) > 0.5 || Math.abs(dh) > 0.5) {
    w += dw; h += dh;
    canvas.style.width = w + 'px'; canvas.style.height = h + 'px';
    chart.resize(w, h);
  }
  canvas.style.left = (PLOT_LEFTS[col] - chart.chartArea.left) + 'px';
  canvas.style.top = (PLOT_TOPS[row] - chart.chartArea.top) + 'px';
}

for (let r = 0; r < 3; r++) for (let c = 0; c < 4; c++) makePanel(r, c);

// ---- column titles ----
const TITLE_CENTERS = [248, 573, 906, 1231];
VIRUSES.forEach((name, i) => {
  const d = document.createElement('div');
  d.className = 'col-title';
  d.textContent = name;
  d.style.left = TITLE_CENTERS[i] + 'px';
  d.style.color = VIRUS_COLORS[i];
  document.body.appendChild(d);
});

// ---- row axis titles ----
const TITLE_LINE_X = [25, 50];
const ROW_CENTERS = [145, 362, 578];
METRIC_TITLES.forEach((lines, r) => {
  lines.forEach((txt, k) => {
    const d = document.createElement('div');
    d.className = 'axis-title';
    d.textContent = txt;
    d.style.left = TITLE_LINE_X[k] + 'px';
    d.style.top = ROW_CENTERS[r] + 'px';
    document.body.appendChild(d);
  });
});

// ---- legend ----
function legendLine(x, y, color) {
  const d = document.createElement('div');
  d.className = 'legend-line';
  d.style.left = x + 'px'; d.style.top = (y - 1.5) + 'px';
  d.style.width = '57px'; d.style.background = color;
  document.body.appendChild(d);
}
function legendText(x, y, txt) {
  const d = document.createElement('div');
  d.className = 'legend-text';
  d.style.left = x + 'px'; d.style.top = (y - 12) + 'px';
  d.textContent = txt;
  document.body.appendChild(d);
}
legendLine(114, 743, CONTROL_COLOR);
legendText(197, 745, 'Control');
const LEGEND_X = [437, 760, 1083];
const LEGEND_ROWS = [724, 735, 746];
MOI_LABELS.forEach((label, m) => {
  for (let c = 0; c < 3; c++) legendLine(LEGEND_X[m], LEGEND_ROWS[c], MOI_COLORS[c][m]);
  legendText(LEGEND_X[m] + 83, 745, label);
});
</script>
</body>
</html>
